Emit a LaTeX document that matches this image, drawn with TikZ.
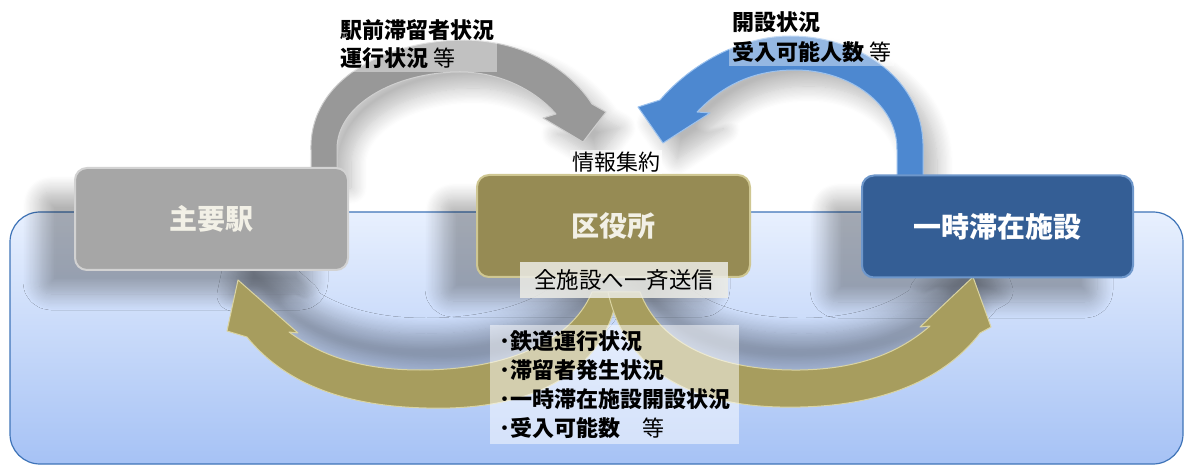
\documentclass[tikz,border=0pt]{standalone}
\usepackage{fontspec}
\setmainfont{Noto Sans CJK JP}
\usetikzlibrary{shadows.blur}
\definecolor{panelTop}{HTML}{E8F0FE}
\definecolor{panelBot}{HTML}{A6C2F5}
\definecolor{panelEdge}{HTML}{3F74B8}
\definecolor{grayBox}{HTML}{A6A6A6}
\definecolor{grayEdge}{HTML}{D2D2D2}
\definecolor{oliveBox}{HTML}{968B54}
\definecolor{oliveEdge}{HTML}{CFC792}
\definecolor{blueBox}{HTML}{345E95}
\definecolor{blueEdge}{HTML}{6E97CB}
\definecolor{grayArc}{HTML}{989898}
\definecolor{grayArcEdge}{HTML}{CFCFCF}
\definecolor{blueArc}{HTML}{4D88D0}
\definecolor{blueArcEdge}{HTML}{9CC2EE}
\definecolor{oliveArc}{HTML}{A79D5E}
\definecolor{oliveArcEdge}{HTML}{DAD4A2}
\definecolor{boxText}{HTML}{F2F0E6}
\definecolor{noteBg}{HTML}{ECECE6}
\begin{document}
\begin{tikzpicture}[x=1pt,y=-1pt,
  stbox/.style={rounded corners=12pt, minimum width=273pt, minimum height=102pt,
    line width=2pt, inner sep=0pt, font=\bfseries\fontsize{28}{32}\selectfont},
  boxshadow/.style={blur shadow={shadow xshift=-36pt, shadow yshift=-24pt,
    shadow blur radius=16pt, shadow blur steps=14, shadow opacity=30}},
  arcshadow/.style={blur shadow={shadow xshift=14pt, shadow yshift=-16pt,
    shadow blur radius=16pt, shadow blur steps=14, shadow opacity=28}},
  oliveshadow/.style={blur shadow={shadow xshift=6pt, shadow yshift=36pt,
    shadow blur radius=16pt, shadow blur steps=14, shadow opacity=30}},
  boldlbl/.style={font=\bfseries\fontsize{22}{28}\selectfont, align=left, inner sep=3pt,
    fill=white, fill opacity=0.4, text opacity=1},
  plainlbl/.style={font=\fontsize{22}{26}\selectfont, inner sep=2pt},
  olivepath/.style={fill=oliveArc, draw=oliveArcEdge, line width=1pt, line join=round},
]
\useasboundingbox (0,0) rectangle (1187,465);
% background panel
\path[draw=panelEdge, line width=1.2pt, top color=panelTop, bottom color=panelBot,
  rounded corners=30pt] (10,212) rectangle (1183,464);

% shadows only
\path[boxshadow, rounded corners=12pt] (75,168) rectangle (348,270);
\path[boxshadow, rounded corners=12pt] (477,175) rectangle (750,277);
\path[boxshadow, rounded corners=12pt] (862,175) rectangle (1133,278);
\path[oliveshadow]
  (618,292) .. controls (605,370) and (540,405) .. (450,408)
  .. controls (360,410) and (290,390) .. (247,337) -- (227,331) -- (238,280)
  -- (298,333) -- (289,332) .. controls (320,355) and (360,370) .. (420,370)
  .. controls (500,370) and (570,345) .. (592,292) -- cycle
  (608,292) .. controls (625,370) and (690,405) .. (780,407)
  .. controls (870,409) and (940,385) .. (980,333) -- (991,327) -- (973,277)
  -- (920,327) -- (930,326) .. controls (900,352) and (860,369) .. (800,370)
  .. controls (720,371) and (660,345) .. (640,292) -- cycle;

% olive arrows (from ward office to both sides)
\path[olivepath]
  (618,292) .. controls (605,370) and (540,405) .. (450,408)
  .. controls (360,410) and (290,390) .. (247,337) -- (227,331) -- (238,280)
  -- (298,333) -- (289,332) .. controls (320,355) and (360,370) .. (420,370)
  .. controls (500,370) and (570,345) .. (592,292) -- cycle;
\path[olivepath]
  (608,292) .. controls (625,370) and (690,405) .. (780,407)
  .. controls (870,409) and (940,385) .. (980,333) -- (991,327) -- (973,277)
  -- (920,327) -- (930,326) .. controls (900,352) and (860,369) .. (800,370)
  .. controls (720,371) and (660,345) .. (640,292) -- cycle;

% gray arc arrow (station -> ward office)
\path[arcshadow, fill=grayArc, draw=grayArcEdge, line width=1pt, line join=round]
  (311,172) -- (311,150) .. controls (309,80) and (385,40) .. (465,40)
  .. controls (525,41) and (570,70) .. (592,104) -- (606,112) -- (583,142)
  -- (543,118) -- (556,114) .. controls (535,90) and (500,72) .. (460,72)
  .. controls (395,72) and (336,105) .. (337,150) -- (337,172) -- cycle;

% blue arc arrow (facility -> ward office)
\path[arcshadow, fill=blueArc, draw=blueArcEdge, line width=1pt, line join=round]
  (923,177) -- (923,150) .. controls (925,80) and (860,36) .. (790,36)
  .. controls (740,36) and (690,65) .. (660,100) -- (638,107) -- (663,143)
  -- (710,113) -- (697,112) .. controls (720,88) and (750,70) .. (795,70)
  .. controls (850,70) and (898,105) .. (897,150) -- (897,177) -- cycle;

% boxes
\node[stbox, fill=grayBox, draw=grayEdge, text=boxText] (eki) at (211.5,219) {主要駅};
\node[stbox, fill=oliveBox, draw=oliveEdge, text=boxText] (ku) at (613.5,226) {区役所};
\node[stbox, fill=blueBox, draw=blueEdge, text=white, minimum width=271pt] (shisetsu) at (997.5,226.5) {一時滞在施設};

% labels
\node[boldlbl, anchor=west] (lblA) at (337,44) {駅前滞留者状況\\運行状況 {\mdseries 等}};
\node[boldlbl, anchor=west, font=\bfseries\fontsize{22}{30}\selectfont] (lblB) at (729,37) {開設状況\\受入可能人数 {\mdseries 等}};
\node[plainlbl, fill=white, fill opacity=0.7, text opacity=1] (shuyaku) at (616,162) {情報集約};
\node[plainlbl, fill=noteBg, fill opacity=0.85, text opacity=1, minimum width=208pt, minimum height=36pt, font=\fontsize{22.5}{26}\selectfont] (soushin) at (624,280) {全施設へ一斉送信};
\node[boldlbl, anchor=north west, font=\bfseries\fontsize{22}{29.3}\selectfont,
  inner xsep=9pt, inner ysep=5pt, fill opacity=0.5] (list) at (490,325)
  {･鉄道運行状況\\･滞留者発生状況\\･一時滞在施設開設状況\\･受入可能数\mdseries　等};
\end{tikzpicture}
\end{document}
